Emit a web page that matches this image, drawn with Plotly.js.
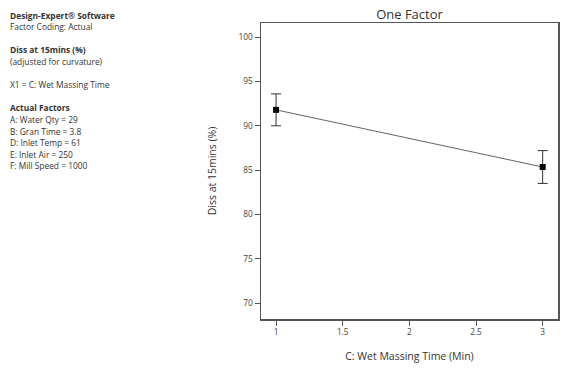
<!DOCTYPE html>
<html><head><meta charset="utf-8">
<script src="https://cdn.plot.ly/plotly-3.0.1.min.js"></script>
<style>body{margin:0;}#chart{width:575px;height:373px;}</style>
</head><body><div id="chart"></div>
<script>
var wetMassingTime = [1, 3];
var diss15 = [91.8, 85.35];
var errorHalf = [1.8, 1.85];
var xTicks = [1, 1.5, 2, 2.5, 3];
var yTicks = [70, 75, 80, 85, 90, 95, 100];
var infoLines = [
  ["Design-Expert® Software", true],
  ["Factor Coding: Actual", false],
  ["", false],
  ["Diss at 15mins (%)", true],
  ["(adjusted for curvature)", false],
  ["", false],
  ["X1 = C: Wet Massing Time", false],
  ["", false],
  ["Actual Factors", true],
  ["A: Water Qty = 29", false],
  ["B: Gran Time = 3.8", false],
  ["D: Inlet Temp = 61", false],
  ["E: Inlet Air = 250", false],
  ["F: Mill Speed = 1000", false]
];

var L = 261, R = 17, T = 23, B = 54, W = 575, H = 373;
var pw = W - L - R, ph = H - T - B;
var fam = "Open Sans, Noto Sans, sans-serif";

var ann = [];
infoLines.forEach(function(l, i){
  if (!l[0]) return;
  var py = 15 + i * 11.6;
  ann.push({
    xref: 'paper', yref: 'paper',
    x: (8 - L) / pw, y: (H - B - py) / ph,
    xanchor: 'left', yanchor: 'middle',
    text: l[1] ? '<b>' + l[0] + '</b>' : l[0],
    showarrow: false,
    font: {family: fam, size: 8.4, color: '#333'}
  });
});

var trace = {
  x: wetMassingTime, y: diss15,
  type: 'scatter', mode: 'lines+markers',
  line: {color: '#666', width: 1},
  marker: {symbol: 'square', size: 6, color: '#000'},
  error_y: {type: 'data', array: errorHalf, visible: true, color: '#333', thickness: 1, width: 5}
};

var layout = {
  width: W, height: H,
  margin: {l: L, r: R, t: T, b: B, pad: 0},
  paper_bgcolor: '#fff', plot_bgcolor: '#fff',
  showlegend: false,
  title: {text: 'One Factor', font: {family: fam, size: 13, color: '#333'}, x: 0.5, xref: 'paper', y: 1 - 14 / H, yanchor: 'middle'},
  xaxis: {
    range: [0.887, 3.115], tickvals: xTicks, ticktext: xTicks.map(String),
    ticks: 'outside', ticklen: 5, tickcolor: '#555', tickwidth: 1,
    showline: true, linecolor: '#555', linewidth: 1.5, mirror: true,
    showgrid: false, zeroline: false,
    tickfont: {family: fam, size: 8.3, color: '#444'},
    title: {text: 'C: Wet Massing Time (Min)', font: {family: fam, size: 10.5, color: '#333'}, standoff: 16}
  },
  yaxis: {
    range: [68.2, 101.6], tickvals: yTicks, ticktext: yTicks.map(String),
    ticks: 'outside', ticklen: 5, tickcolor: '#555', tickwidth: 1,
    showline: true, linecolor: '#555', linewidth: 1.5, mirror: true,
    showgrid: false, zeroline: false,
    tickfont: {family: fam, size: 8.3, color: '#444'},
    title: {text: 'Diss at 15mins (%)', font: {family: fam, size: 10.5, color: '#333'}, standoff: 20}
  },
  annotations: ann
};

Plotly.newPlot('chart', [trace], layout, {displayModeBar: false, staticPlot: true});
</script></body></html>
